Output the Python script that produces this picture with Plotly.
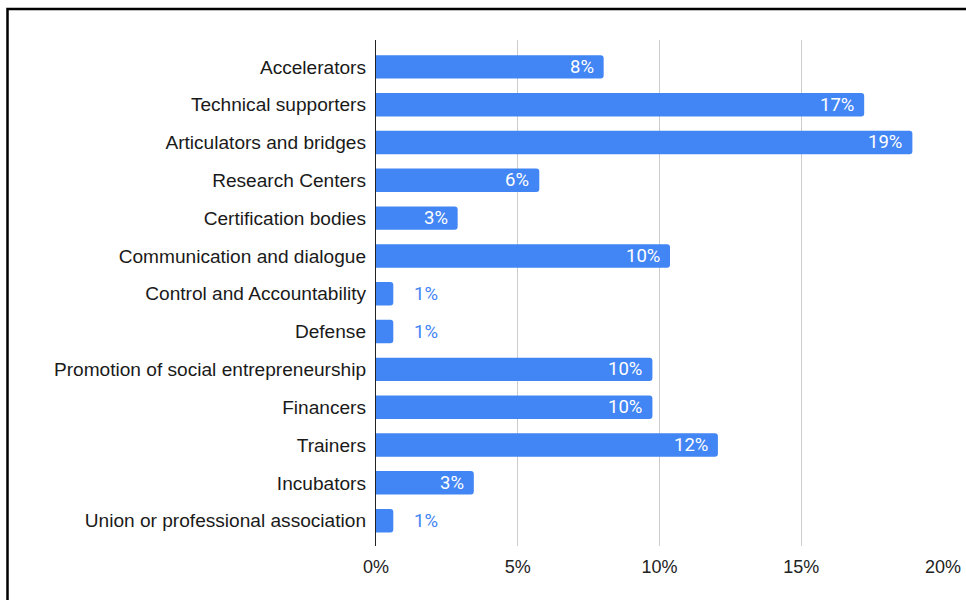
import plotly.graph_objects as go

# Share of organisations by role
categories = [
    "Accelerators",
    "Technical supporters",
    "Articulators and bridges",
    "Research Centers",
    "Certification bodies",
    "Communication and dialogue",
    "Control and Accountability",
    "Defense",
    "Promotion of social entrepreneurship",
    "Financers",
    "Trainers",
    "Incubators",
    "Union or professional association",
]
shares = [0.0803, 0.1722, 0.1892, 0.0576, 0.0288, 0.1037, 0.0061,
          0.0061, 0.0975, 0.0975, 0.1206, 0.0345, 0.0061]
x_ticks = [0, 0.05, 0.10, 0.15, 0.20]
x_tick_labels = ["0%", "5%", "10%", "15%", "20%"]

W, H = 966, 600
ML, MR, MT, MB = 376, 23, 40, 54
BLUE = "#4285F4"

fig = go.Figure(
    go.Bar(
        x=shares,
        y=categories,
        orientation="h",
        marker=dict(color=BLUE, cornerradius=3, line=dict(width=0)),
        hoverinfo="skip",
    )
)

# Value labels: inside the bar end when it fits, otherwise just past it
annotations = []
for cat, v in zip(categories, shares):
    inside = v >= 0.02
    annotations.append(dict(
        x=v, y=cat, xref="x", yref="y",
        text=f"{v:.0%}",
        showarrow=False,
        xanchor="right" if inside else "left",
        xshift=-8 if inside else 19,
        font=dict(family="Roboto, Arial, sans-serif", size=18.5,
                  color="white" if inside else BLUE),
    ))

pw = W - ML - MR
ph = H - MT - MB
# Outer frame around the whole chart (runs past the right and bottom edges)
frame = dict(
    type="rect", xref="paper", yref="paper",
    x0=(7.5 - ML) / pw, x1=(W + 10 - ML) / pw,
    y0=-(MB + 10) / ph, y1=1 + (MT - 9) / ph,
    line=dict(color="black", width=2.5), fillcolor="rgba(0,0,0,0)",
    layer="above",
)

n = len(categories)
fig.update_layout(
    width=W, height=H,
    margin=dict(l=ML, r=MR, t=MT, b=MB, pad=0, autoexpand=False),
    paper_bgcolor="white", plot_bgcolor="white",
    bargap=0.38,
    showlegend=False,
    annotations=annotations,
    shapes=[frame],
    xaxis=dict(
        range=[0, 0.2], tickvals=x_ticks, ticktext=x_tick_labels,
        showgrid=True, gridcolor="#cccccc", gridwidth=1,
        zeroline=False, showline=False, ticks="",
        ticklabelstandoff=8, automargin=False,
        tickfont=dict(family="Liberation Sans, Arial, sans-serif", size=18, color="#222222"),
        fixedrange=True,
    ),
    yaxis=dict(
        range=[n - 0.5 + 0.17, -0.71],
        showgrid=False, zeroline=False,
        showline=True, linecolor="#222222", linewidth=1.3,
        ticks="", ticklabelstandoff=5, automargin=False,
        tickfont=dict(family="Liberation Sans, Arial, sans-serif", size=19.1, color="#1a1a1a"),
        fixedrange=True,
    ),
)

fig.write_html("out.html")
